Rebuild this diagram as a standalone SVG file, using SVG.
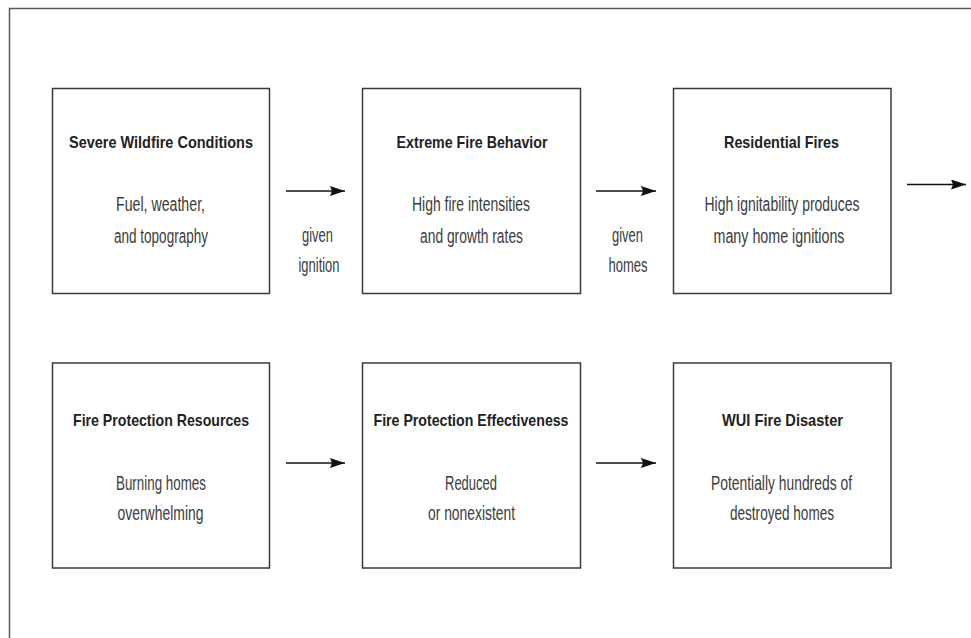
<svg xmlns="http://www.w3.org/2000/svg" width="971" height="638" viewBox="0 0 971 638">
<style>
.frame{fill:none;stroke:#5a5a5a;stroke-width:1.5}
.box{fill:#fff;stroke:#3a3a3a;stroke-width:1.5}
.t{font-family:"Liberation Sans Narrow","Liberation Sans",Arial,sans-serif;font-weight:bold;font-size:17px;fill:#222;text-anchor:middle}
.b{font-family:"Liberation Sans Narrow","Liberation Sans",Arial,sans-serif;font-size:19.5px;fill:#3c3c3c;text-anchor:middle}
.c{stroke:#111;stroke-width:1.6;fill:none;marker-end:url(#ah)}
</style>
<defs>
<marker id="ah" viewBox="0 0 15 10" refX="15" refY="5" markerWidth="15" markerHeight="10" markerUnits="userSpaceOnUse" orient="auto">
<path d="M0,0 L15,5 L0,10 L2,5 Z" fill="#111"/>
</marker>
</defs>
<rect width="971" height="638" fill="#fff"/>
<path class="frame" d="M9.5,640 V8.5 H975"/>

<g id="n1">
<rect class="box" x="52.5" y="88.5" width="217" height="205"/>
<text class="t" x="161" y="148" textLength="184" lengthAdjust="spacingAndGlyphs">Severe Wildfire Conditions</text>
<text class="b" x="160.5" y="211" textLength="89" lengthAdjust="spacingAndGlyphs">Fuel, weather,</text>
<text class="b" x="161" y="243" textLength="94" lengthAdjust="spacingAndGlyphs">and topography</text>
</g>
<g id="n2">
<rect class="box" x="362.5" y="88.5" width="218" height="205"/>
<text class="t" x="472" y="148" textLength="151" lengthAdjust="spacingAndGlyphs">Extreme Fire Behavior</text>
<text class="b" x="471" y="211" textLength="118" lengthAdjust="spacingAndGlyphs">High fire intensities</text>
<text class="b" x="471.5" y="243" textLength="103" lengthAdjust="spacingAndGlyphs">and growth rates</text>
</g>
<g id="n3">
<rect class="box" x="673.5" y="88.5" width="217.5" height="205"/>
<text class="t" x="781.5" y="148" textLength="115" lengthAdjust="spacingAndGlyphs">Residential Fires</text>
<text class="b" x="782" y="211" textLength="155" lengthAdjust="spacingAndGlyphs">High ignitability produces</text>
<text class="b" x="779" y="243" textLength="131" lengthAdjust="spacingAndGlyphs">many home ignitions</text>
</g>
<g id="n4">
<rect class="box" x="52.5" y="363" width="217" height="205"/>
<text class="t" x="161" y="426" textLength="176" lengthAdjust="spacingAndGlyphs">Fire Protection Resources</text>
<text class="b" x="161" y="490" textLength="90" lengthAdjust="spacingAndGlyphs">Burning homes</text>
<text class="b" x="160.5" y="520" textLength="86" lengthAdjust="spacingAndGlyphs">overwhelming</text>
</g>
<g id="n5">
<rect class="box" x="362.5" y="363" width="218" height="205"/>
<text class="t" x="471" y="426" textLength="195" lengthAdjust="spacingAndGlyphs">Fire Protection Effectiveness</text>
<text class="b" x="471" y="490" textLength="52" lengthAdjust="spacingAndGlyphs">Reduced</text>
<text class="b" x="471.5" y="520" textLength="87" lengthAdjust="spacingAndGlyphs">or nonexistent</text>
</g>
<g id="n6">
<rect class="box" x="673.5" y="363" width="217.5" height="205"/>
<text class="t" x="782.5" y="426" textLength="121" lengthAdjust="spacingAndGlyphs">WUI Fire Disaster</text>
<text class="b" x="781.5" y="490" textLength="141" lengthAdjust="spacingAndGlyphs">Potentially hundreds of</text>
<text class="b" x="782" y="520" textLength="104" lengthAdjust="spacingAndGlyphs">destroyed homes</text>
</g>

<g id="connectors">
<line class="c" x1="286" y1="191" x2="345" y2="191"/>
<line class="c" x1="596" y1="191" x2="656" y2="191"/>
<line class="c" x1="907" y1="184.5" x2="966" y2="184.5"/>
<line class="c" x1="286" y1="463" x2="345" y2="463"/>
<line class="c" x1="596" y1="463" x2="656" y2="463"/>
<text class="b" x="317.5" y="242" textLength="31" lengthAdjust="spacingAndGlyphs">given</text>
<text class="b" x="319" y="272" textLength="41" lengthAdjust="spacingAndGlyphs">ignition</text>
<text class="b" x="627.5" y="242" textLength="31" lengthAdjust="spacingAndGlyphs">given</text>
<text class="b" x="628" y="272" textLength="39" lengthAdjust="spacingAndGlyphs">homes</text>
</g>
</svg>
